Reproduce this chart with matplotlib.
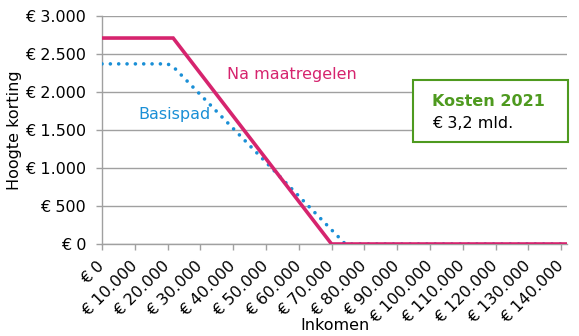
import matplotlib.pyplot as plt

# data
na_x = [0, 21700, 70000, 141800]
na_y = [2710, 2710, 0, 0]
basis_x = [0, 20000, 22000, 74200, 141800]
basis_y = [2370, 2370, 2320, 0, 0]

xticks = list(range(0, 140001, 10000))
xlabels = ['€ 0'] + ['€ {:,}'.format(v).replace(',', '.') for v in xticks[1:]]
yticks = list(range(0, 3001, 500))
ylabels = ['€ 0', '€ 500'] + ['€ {:,}'.format(v).replace(',', '.') for v in yticks[2:]]

magenta = '#d6246e'
blue = '#1a8fd6'
green = '#4e9a1f'
grey = '#a0a0a0'
fs = 11.5

plt.rcParams['font.family'] = ['DejaVu Sans']
fig = plt.figure(figsize=(5.79, 3.36), dpi=100)
ax = fig.add_axes([102/579, 1-244/336, (567-102)/579, (244-16)/336])

ax.plot(basis_x, basis_y, color=blue, lw=2.6, linestyle=(0, (0.01, 2.3)),
        dash_capstyle='round', zorder=3)
ax.plot(na_x, na_y, color=magenta, lw=2.6, zorder=4, solid_joinstyle='miter')

ax.set_xlim(0, 141800)
ax.set_ylim(0, 3000)
ax.set_yticks(yticks)
ax.set_yticklabels(ylabels, fontsize=fs)
ax.set_xticks(xticks)
ax.set_xticklabels(xlabels, fontsize=fs, rotation=45, ha='right', va='center',
                   rotation_mode='anchor')
ax.tick_params(axis='both', colors=grey, labelcolor='black', length=4, width=1)
ax.tick_params(axis='x', pad=10)
ax.tick_params(axis='y', pad=7.5)
ax.grid(axis='y', color=grey, lw=1)
ax.set_axisbelow(True)
for s in ['top', 'right']:
    ax.spines[s].set_visible(False)
for s in ['left', 'bottom']:
    ax.spines[s].set_color(grey)
    ax.spines[s].set_linewidth(1)

ax.set_xlabel('Inkomen', fontsize=fs)
ax.set_ylabel('Hoogte korting', fontsize=fs)
ax.yaxis.set_label_coords(-(102 - 15)/465, (244 - 130)/228)
ax.xaxis.set_label_coords(0.5, -(325 - 244)/228)
ax.xaxis.label.set_va('center')
ax.yaxis.label.set_va('center')

ax.text(57800, 2230, 'Na maatregelen', color=magenta, fontsize=fs,
        ha='center', va='center')
ax.text(11000, 1700, 'Basispad', color=blue, fontsize=fs,
        ha='left', va='center')

# cost box
box = plt.Rectangle((413/579, 1-142/336), 155/579, 62/336, transform=fig.transFigure,
                    fill=True, facecolor='white', edgecolor=green, lw=1.5, zorder=5)
fig.patches.append(box)
fig.text(432/579, 1-101/336, 'Kosten 2021', color=green, fontsize=fs,
         fontweight='bold', va='center', zorder=6)
fig.text(432/579, 1-123/336, '€ 3,2 mld.', color='black', fontsize=fs,
         va='center', zorder=6)

fig.savefig('out.png', dpi=100)
